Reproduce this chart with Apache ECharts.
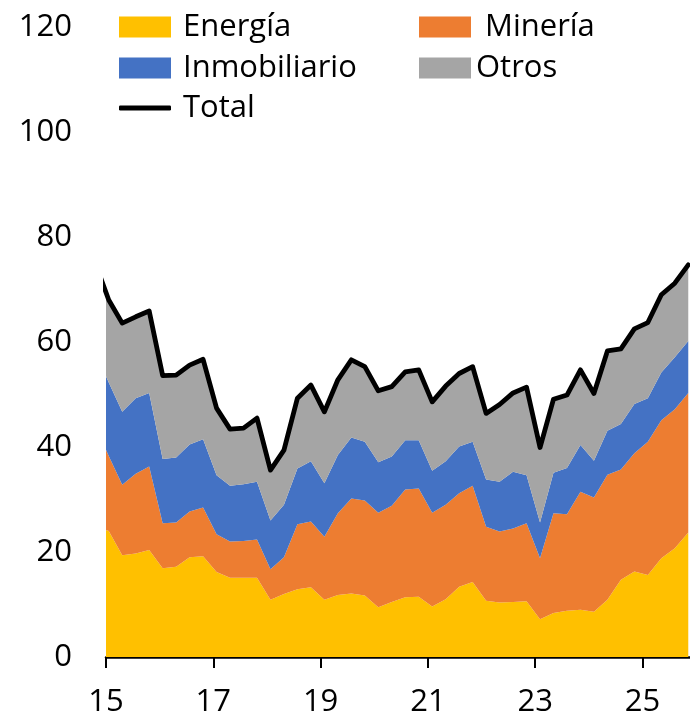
<!DOCTYPE html>
<html>
<head>
<meta charset="utf-8">
<script src="https://cdn.jsdelivr.net/npm/echarts@6/dist/echarts.min.js"></script>
<style>html,body{margin:0;padding:0;background:#fff}#c{width:690px;height:719px}</style>
</head>
<body>
<div id="c"></div>
<script>
// Quarterly data, first point (2014 Q4) lies just left of the plot and is clipped
const firstQuarterPos = -0.2;   // years since 2015
const quarterStep = 0.2512;
const xTickValues = [0, 2, 4, 6, 8, 10];
const xTickBaseYear = 15;
const yTickValues = [0, 20, 40, 60, 80, 100, 120];

const seriesNames = ['Energía', 'Minería', 'Inmobiliario', 'Otros'];
const energia = [25.0, 24.0,19.4,19.7,20.4,16.9,17.2,19.0,19.2,16.2,15.1,15.1,15.1,10.9,12.0,12.9,13.3,10.9,11.8,12.1,11.7,9.5,10.5,11.4,11.5,9.6,11.0,13.4,14.3,10.7,10.4,10.5,10.6,7.2,8.4,8.8,9.0,8.6,10.9,14.7,16.3,15.6,18.8,20.7,23.7];
const mineria = [19.1, 14.3,13.4,15.2,15.9,8.6,8.4,8.7,9.3,7.2,6.9,7.0,7.3,5.8,7.0,12.4,12.5,12.0,15.6,18.1,18.1,18.0,18.3,20.5,20.6,17.9,18.0,17.8,18.3,14.1,13.5,14.0,14.9,11.6,19.0,18.4,22.5,21.8,23.8,21.0,22.5,25.4,26.3,26.5,26.6];
const inmobiliario = [14.0, 14.0,13.9,14.4,14.0,12.2,12.4,12.8,13.0,11.2,10.6,10.8,11.0,9.3,10.0,10.6,11.5,10.2,11.1,11.6,11.2,9.6,9.4,9.4,9.2,8.0,8.3,8.9,8.4,9.0,9.5,10.8,9.1,6.8,7.7,8.8,8.9,7.0,8.4,8.7,9.4,8.3,9.1,9.9,9.9];
const otros = [13.1, 15.7,16.9,15.5,15.6,15.9,15.7,15.1,15.2,12.8,10.8,10.7,12.1,9.6,10.4,13.4,14.5,13.6,14.3,14.8,14.3,13.6,13.3,13.0,13.4,13.1,14.3,13.9,14.3,12.6,14.7,15.0,16.8,14.3,14.0,13.9,14.3,12.8,15.2,14.3,14.3,14.4,14.8,14.1,14.5];
const total = [75.0, 68.0,63.6,64.8,65.9,53.6,53.7,55.6,56.7,47.4,43.4,43.6,45.5,35.6,39.4,49.3,51.8,46.7,52.8,56.6,55.3,50.7,51.5,54.3,54.7,48.6,51.6,54.0,55.3,46.4,48.1,50.3,51.4,39.9,49.1,49.9,54.7,50.2,58.3,58.7,62.5,63.7,69.0,71.2,74.7];

const colors = ['#FFC000', '#ED7D31', '#4472C4', '#A5A5A5'];
const FONT = "'Open Sans', sans-serif";

const xPos = energia.map((_, i) => firstQuarterPos + quarterStep * i);
// value first, position second, so the stack is computed on the value dimension
const pairs = arr => arr.map((v, i) => [v, xPos[i]]);
const stackValues = [energia, mineria, inmobiliario, otros];

function legend(name, left, top, padL, icon, h) {
  return {
    data: [{ name: name, icon: icon }],
    left: left, top: top, padding: 0,
    itemWidth: 52, itemHeight: h,
    selectedMode: false,
    itemStyle: { borderWidth: 0 },
    textStyle: { fontFamily: FONT, fontSize: 31, color: '#000', lineHeight: 32, padding: [0, 0, 0, padL] }
  };
}

const chart = echarts.init(document.getElementById('c'), null, { renderer: 'canvas' });
const series = seriesNames.map((n, k) => ({
  type: 'line', name: n, stack: 'total', data: pairs(stackValues[k]),
  encode: { x: 1, y: 0 },
  symbol: 'none', showSymbol: false, silent: true,
  color: colors[k], itemStyle: { color: colors[k] },
  lineStyle: { width: 0, opacity: 0 },
  areaStyle: { color: colors[k], opacity: 1 }
}));
series.push({
  type: 'line', name: 'Total', data: pairs(total),
  encode: { x: 1, y: 0 },
  symbol: 'none', showSymbol: false, silent: true, z: 5,
  color: '#000', itemStyle: { color: '#000' },
  lineStyle: { color: '#000', width: 4.8, join: 'round', cap: 'round' }
});

chart.setOption({
  animation: false,
  backgroundColor: '#fff',
  grid: { left: 106, right: 0, top: 27, bottom: 62, containLabel: false, outerBoundsMode: 'none' },
  legend: [
    legend('Energía', 119, 11, 7, 'rect', 21),
    legend('Minería', 419, 11, 9, 'rect', 21),
    legend('Inmobiliario', 119, 52, 7, 'rect', 21),
    legend('Otros', 419, 52, 0, 'rect', 21),
    legend('Total', 119, 92, 7, 'roundRect', 5)
  ],
  xAxis: {
    type: 'value', min: 0, max: 10.885, interval: 2,
    axisLine: { show: true, onZero: false, lineStyle: { color: '#000', width: 2.5 } },
    axisTick: { show: true, length: 11, lineStyle: { color: '#000', width: 2 }, customValues: xTickValues },
    axisLabel: { customValues: xTickValues, formatter: v => String(xTickBaseYear + v), margin: 30,
      fontFamily: FONT, fontSize: 31, color: '#000' },
    splitLine: { show: false }
  },
  yAxis: {
    type: 'value', min: 0, max: 120, interval: 20,
    axisLine: { show: false }, axisTick: { show: false }, splitLine: { show: false },
    axisLabel: { customValues: yTickValues, margin: 34, fontFamily: FONT, fontSize: 31, color: '#000' }
  },
  series: series
});
</script>
</body>
</html>
